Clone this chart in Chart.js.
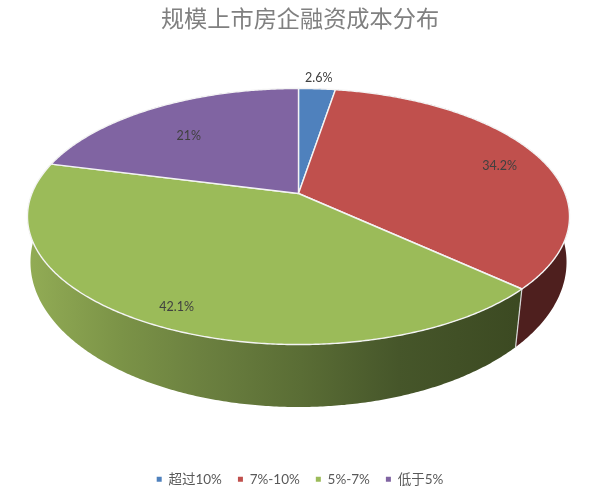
<!DOCTYPE html>
<html><head><meta charset="utf-8">
<style>html,body{margin:0;padding:0;background:#fff}canvas{display:block}</style>
<script src="https://cdn.jsdelivr.net/npm/chart.js@4"></script>
</head><body><canvas id="c" width="594" height="493"></canvas>
<script>
const titleText = '规模上市房企融资成本分布';
const categories = ['超过10%', '7%-10%', '5%-7%', '低于5%'];
const shareValues = [2.6, 34.2, 42.1, 21];
const sliceColors = ['#4f81bd', '#c0504d', '#9bbb59', '#8064a2'];
const labelRadii = [1.12, 0.82, 0.88, 0.68];
const labelAngleNudgeDeg = [0, 2.5, -2, -3.5];
const FONT = '"Lato","Noto Sans CJK SC",sans-serif';

// Tilted-disc projection of the pie: top face and bottom rim
const TOP = {cy: 193.5, A: 123.9, C: 266.6, k: -0.1797};
const BOTTOM = {cy: 240.3, A: 141.7, C: 265, k: -0.15};
const CX = 298.5;
function project(theta, r, level) {
  const m = level ? BOTTOM : TOP;
  const u = r * Math.sin(theta), v = -r * Math.cos(theta);
  const d = 1 + m.k * v;
  return [CX + m.C * u / d, m.cy + m.A * v / d];
}
function wallFill(ctx, i) {
  if (i === 1) return '#4e1f1e';
  const g = ctx.createLinearGradient(28, 0, 516, 0);
  [[0, '#92ac55'], [0.19, '#7b9347'], [0.35, '#6c8140'], [0.56, '#5a6d35'], [0.76, '#46562a'], [1, '#3c4a22']]
    .forEach(s => g.addColorStop(s[0], s[1]));
  return i === 2 ? g : sliceColors[i];
}
const tiltedPie = {
  id: 'tiltedPie',
  beforeDatasetsDraw(chart) {
    const ctx = chart.ctx, arcs = chart.getDatasetMeta(0).data;
    const spans = arcs.map(a => [a.startAngle + Math.PI / 2, a.endAngle + Math.PI / 2]);
    const step = Math.PI / 360;
    const rim = (s, e, level, rev) => {
      const pts = [];
      const n = Math.max(2, Math.ceil((e - s) / step));
      for (let j = 0; j <= n; j++) pts.push(project(s + (e - s) * j / n, 1, level));
      return rev ? pts.reverse() : pts;
    };
    ctx.save();
    // side walls, back to front
    [0, 3, 1, 2].forEach(i => {
      const [s, e] = spans[i];
      const pts = rim(s, e, 0).concat(rim(s, e, 1, true));
      ctx.beginPath();
      pts.forEach((p, j) => j ? ctx.lineTo(p[0], p[1]) : ctx.moveTo(p[0], p[1]));
      ctx.closePath();
      ctx.fillStyle = wallFill(ctx, i);
      ctx.fill();
    });
    // seam on the wall
    const seamA = project(spans[1][1], 1, 0), seamB = project(spans[1][1], 1, 1);
    ctx.beginPath(); ctx.moveTo(seamA[0], seamA[1]); ctx.lineTo(seamB[0], seamB[1]);
    ctx.strokeStyle = '#d8d8d8'; ctx.lineWidth = 1.2; ctx.stroke();
    // top faces
    spans.forEach(([s, e], i) => {
      ctx.beginPath();
      ctx.moveTo(CX, TOP.cy);
      rim(s, e, 0).forEach(p => ctx.lineTo(p[0], p[1]));
      ctx.closePath();
      ctx.fillStyle = sliceColors[i];
      ctx.fill();
      ctx.strokeStyle = '#f4f4f4'; ctx.lineWidth = 1.4; ctx.lineJoin = 'round';
      ctx.stroke();
    });
    // value labels
    ctx.fillStyle = '#404040';
    ctx.font = '12.5px ' + FONT;
    ctx.textAlign = 'center'; ctx.textBaseline = 'middle';
    spans.forEach(([s, e], i) => {
      const p = project((s + e) / 2 + labelAngleNudgeDeg[i] * Math.PI / 180, labelRadii[i], 0);
      ctx.fillText(shareValues[i] + '%', p[0], p[1]);
    });
    ctx.restore();
    return false;
  }
};
new Chart(document.getElementById('c'), {
  type: 'pie',
  data: {labels: categories, datasets: [{data: shareValues, backgroundColor: sliceColors, borderWidth: 0}]},
  plugins: [tiltedPie],
  options: {
    responsive: false, animation: false,
    layout: {padding: {bottom: -3, left: 6}},
    plugins: {
      tooltip: {enabled: false},
      title: {display: true, text: titleText, color: '#808080',
        font: {family: FONT, size: 23.2, weight: 'normal'}, padding: {top: 6, bottom: 10}},
      legend: {position: 'bottom',
        labels: {boxWidth: 5, boxHeight: 5, padding: 16, color: '#595959', font: {family: FONT, size: 13.5}}}
    }
  }
});
</script></body></html>
